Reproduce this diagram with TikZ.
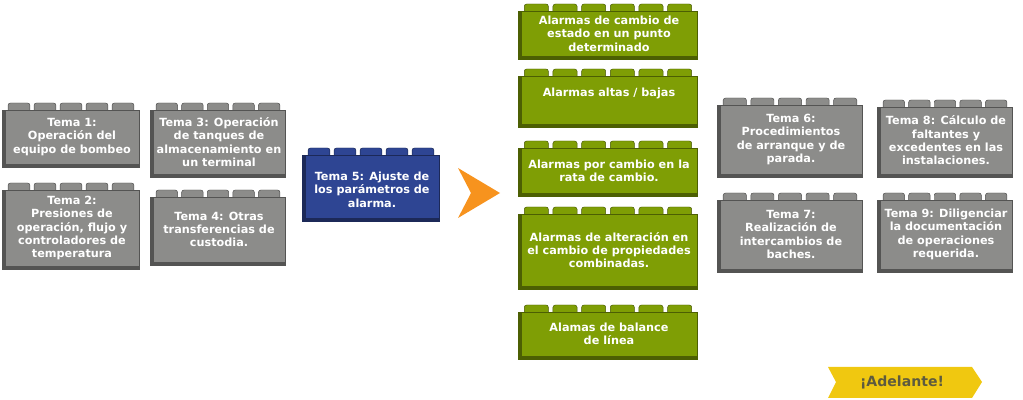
\documentclass[tikz,border=0pt]{standalone}
\usepackage{fontspec}
\setmainfont{DejaVu Sans}
\definecolor{gris}{HTML}{8C8C8A}
\definecolor{azul}{HTML}{2E4593}
\definecolor{verde}{HTML}{7F9E05}
\definecolor{naranja}{HTML}{F7931E}
\definecolor{amarillo}{HTML}{F0C810}
\definecolor{textoboton}{HTML}{5E5B3E}
\tikzset{
  texto/.style={text=white, font=\bfseries\fontsize{9.6}{11.4}\selectfont, align=center, inner sep=0pt},
}
% [desplazamiento]{nombre}{x1}{y1}{x2}{y2}{botones}{color}{texto}
\newcommand{\ladrillo}[9][0]{%
  \pgfmathsetmacro{\paso}{(#5-#3-8)/#7}
  \foreach \k in {1,...,#7}
    \draw[fill=#8, draw=#8!55!black, rounded corners=2pt]
      ({#3+4+(\k-1)*\paso+0.08*\paso},{#4+8}) -- ++(0,-8) -- ++({0.84*\paso},0) -- ++(0,8);
  \fill[#8!60!black] (#3,#4+7) rectangle (#5,#6);
  \fill[#8] (#3+4,#4+8) rectangle (#5-1.5,#6-3.5);
  \node[texto] (#2) at ({(#3+#5)/2+1},{(#4+7+#6)/2-2+#1}) {#9};
}
\begin{document}
\begin{tikzpicture}[x=0.03cm, y=-0.03cm, line join=round]
  \useasboundingbox (0,0) rectangle (1023,400);
  % temas 1 a 4
  \ladrillo{tema1}{2}{103}{140}{168}{5}{gris}{Tema 1:\\Operación del\\equipo de bombeo}
  \ladrillo{tema3}{150}{103}{286}{178}{5}{gris}{Tema 3: Operación\\de tanques de\\almacenamiento en\\un terminal}
  \ladrillo{tema2}{2}{183}{140}{270}{5}{gris}{Tema 2:\\Presiones de\\operación, flujo y\\controladores de\\temperatura}
  \ladrillo{tema4}{150}{190}{286}{266}{5}{gris}{Tema 4: Otras\\transferencias de\\custodia.}
  % tema 5
  \ladrillo[3]{tema5}{302}{148}{440}{222}{5}{azul}{Tema 5: Ajuste de\\los parámetros de\\alarma.}
  \fill[naranja] (458,168) -- (500,193) -- (458,218) -- (471,193) -- cycle;
  % alarmas
  \ladrillo{alarmaA}{518}{4}{698}{60}{6}{verde}{Alarmas de cambio de\\estado en un punto\\determinado}
  \ladrillo[-7]{alarmaB}{518}{69}{698}{128}{6}{verde}{Alarmas altas / bajas}
  \ladrillo{alarmaC}{518}{141}{698}{197}{6}{verde}{Alarmas por cambio en la\\rata de cambio.}
  \ladrillo{alarmaD}{518}{207}{698}{290}{6}{verde}{Alarmas de alteración en\\el cambio de propiedades\\combinadas.}
  \ladrillo{alarmaE}{518}{305}{698}{360}{6}{verde}{Alamas de balance\\de línea}
  % temas 6 a 9
  \ladrillo{tema6}{717}{98}{863}{178}{5}{gris}{Tema 6:\\Procedimientos\\de arranque y de\\parada.}
  \ladrillo{tema8}{877}{100}{1013}{178}{5}{gris}{Tema 8: Cálculo de\\faltantes y\\excedentes en las\\instalaciones.}
  \ladrillo{tema7}{717}{193}{863}{273}{5}{gris}{Tema 7:\\Realización de\\intercambios de\\baches.}
  \ladrillo{tema9}{877}{193}{1013}{273}{5}{gris}{Tema 9: Diligenciar\\la documentación\\de operaciones\\requerida.}
  % boton
  \fill[amarillo] (828,367) -- (972,367) -- (982,382) -- (972,398) -- (828,398) -- (836,382) -- cycle;
  \node[text=textoboton, font=\bfseries\fontsize{12}{14}\selectfont, inner sep=0pt] (adelante) at (902,382) {¡Adelante!};
\end{tikzpicture}
\end{document}
